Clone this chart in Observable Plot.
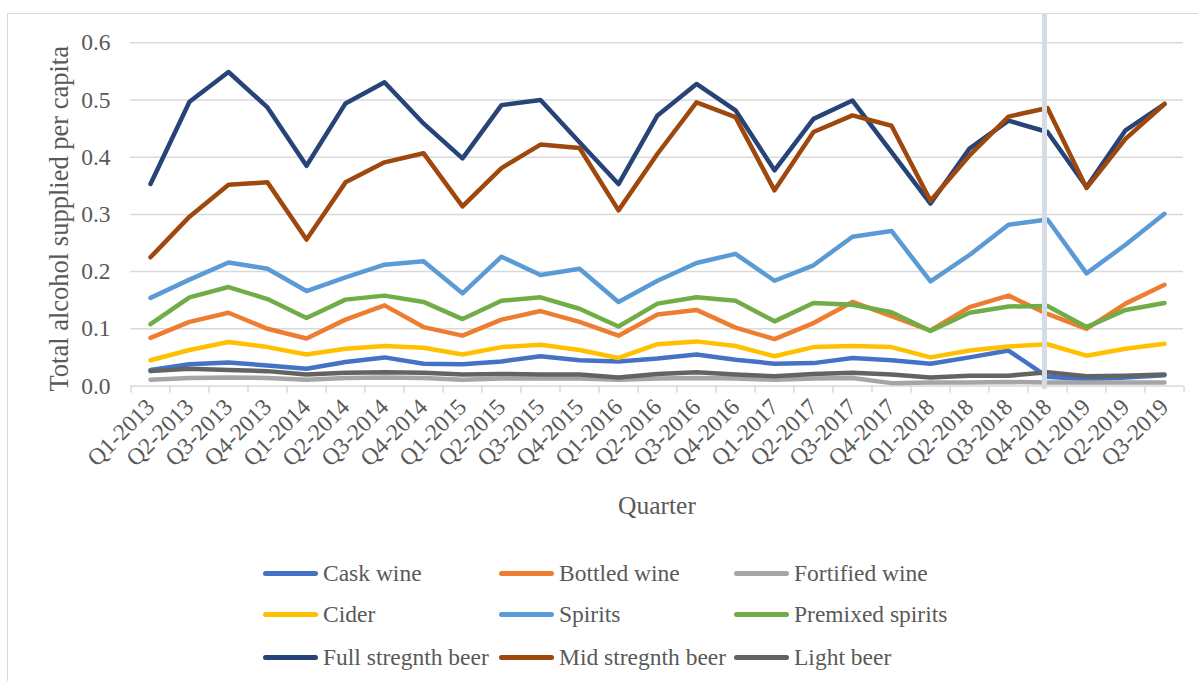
<!DOCTYPE html>
<html>
<head>
<meta charset="utf-8">
<script src="https://cdn.jsdelivr.net/npm/d3@7"></script>
<script src="https://cdn.jsdelivr.net/npm/@observablehq/plot@0.6"></script>
<style>
  html, body { margin: 0; padding: 0; background: #fff; overflow: hidden; }
  #wrap { position: relative; width: 1198px; height: 681px; font-family: "Liberation Serif", "Times New Roman", serif; }
  #frame { position: absolute; left: 7px; top: 13px; width: 1200px; height: 700px; border: 1px solid #d9d9d9; box-sizing: border-box; pointer-events: none; }
  #chart { position: absolute; left: 0; top: 0; }
  .leg { position: absolute; display: flex; align-items: center; font-size: 23.5px; color: #595959; white-space: nowrap; }
  .sw { width: 55px; height: 5px; border-radius: 3px; margin-right: 5px; }
</style>
</head>
<body>
<div id="wrap">
  <div id="frame"></div>
  <div id="chart"></div>
  <div id="legend"></div>
</div>
<script>
const quarters = ["Q1-2013","Q2-2013","Q3-2013","Q4-2013","Q1-2014","Q2-2014","Q3-2014","Q4-2014",
  "Q1-2015","Q2-2015","Q3-2015","Q4-2015","Q1-2016","Q2-2016","Q3-2016","Q4-2016",
  "Q1-2017","Q2-2017","Q3-2017","Q4-2017","Q1-2018","Q2-2018","Q3-2018","Q4-2018",
  "Q1-2019","Q2-2019","Q3-2019"];

const seriesNames = ["Cask wine","Bottled wine","Fortified wine","Cider","Spirits","Premixed spirits",
  "Full stregnth beer","Mid stregnth beer","Light beer"];
const seriesColors = ["#4472C4","#ED7D31","#A5A5A5","#FFC000","#5B9BD5","#70AD47","#264478","#9E480E","#636363"];

const caskWine = [0.028,0.038,0.041,0.036,0.030,0.042,0.050,0.039,0.038,0.043,0.052,0.045,0.043,0.048,0.055,0.046,0.039,0.040,0.049,0.045,0.039,0.050,0.062,0.016,0.012,0.015,0.019];
const bottledWine = [0.084,0.112,0.128,0.100,0.083,0.116,0.141,0.103,0.088,0.116,0.131,0.112,0.088,0.125,0.133,0.102,0.082,0.110,0.147,0.122,0.097,0.138,0.158,0.126,0.100,0.144,0.177];
const fortifiedWine = [0.011,0.014,0.015,0.014,0.011,0.014,0.015,0.014,0.011,0.013,0.013,0.013,0.011,0.013,0.014,0.013,0.011,0.013,0.014,0.005,0.006,0.006,0.007,0.006,0.006,0.006,0.006];
const cider = [0.045,0.063,0.077,0.068,0.055,0.065,0.070,0.067,0.055,0.068,0.072,0.063,0.049,0.073,0.078,0.070,0.052,0.068,0.070,0.068,0.050,0.062,0.069,0.073,0.053,0.065,0.074];
const spirits = [0.154,0.186,0.216,0.205,0.166,0.190,0.212,0.218,0.162,0.226,0.194,0.205,0.147,0.184,0.215,0.231,0.184,0.211,0.261,0.271,0.183,0.229,0.282,0.291,0.197,0.247,0.301];
const premixedSpirits = [0.108,0.155,0.173,0.152,0.119,0.151,0.158,0.147,0.117,0.149,0.155,0.135,0.104,0.144,0.155,0.149,0.113,0.145,0.142,0.129,0.096,0.128,0.139,0.140,0.103,0.133,0.145];
const fullBeer = [0.353,0.497,0.549,0.487,0.385,0.494,0.531,0.459,0.398,0.491,0.500,0.426,0.353,0.473,0.528,0.482,0.377,0.467,0.499,0.409,0.319,0.415,0.464,0.444,0.348,0.447,0.493];
const midBeer = [0.225,0.296,0.352,0.356,0.256,0.356,0.391,0.407,0.314,0.381,0.422,0.416,0.307,0.406,0.496,0.470,0.342,0.444,0.473,0.455,0.324,0.403,0.471,0.486,0.346,0.432,0.493];
const lightBeer = [0.026,0.030,0.028,0.026,0.020,0.023,0.024,0.023,0.020,0.021,0.020,0.020,0.015,0.021,0.024,0.020,0.017,0.021,0.023,0.020,0.015,0.018,0.018,0.024,0.017,0.018,0.020];

const yTicks = [0, 0.1, 0.2, 0.3, 0.4, 0.5, 0.6];
const markerQuarter = "Q4-2018";

const seriesValues = [caskWine, bottledWine, fortifiedWine, cider, spirits, premixedSpirits, fullBeer, midBeer, lightBeer];
const data = seriesNames.flatMap((name, s) => quarters.map((q, i) => ({series: name, quarter: q, value: seriesValues[s][i]})));

const font = '"Liberation Serif", "Times New Roman", serif';

const chart = Plot.plot({
  width: 1198,
  height: 540,
  marginLeft: 130,
  marginRight: 15,
  marginTop: 13,
  marginBottom: 154.5,
  style: {fontFamily: font, background: "transparent", overflow: "visible"},
  x: {type: "point", domain: quarters, padding: 0.5, axis: null},
  y: {domain: [0, 0.6512], axis: null},
  color: {domain: seriesNames, range: seriesColors},
  marks: [
    Plot.gridY(yTicks, {stroke: "#d9d9d9", strokeOpacity: 1, strokeWidth: 1.5}),
    Plot.ruleX(quarters, {x: d => d, dx: -19.5, y1: 0, y2: -0.0125, stroke: "#d9d9d9", strokeWidth: 1.5}),
    Plot.ruleX([quarters[quarters.length - 1]], {x: d => d, dx: 19.5, y1: 0, y2: -0.0125, stroke: "#d9d9d9", strokeWidth: 1.5}),
    Plot.axisY(yTicks, {tickSize: 0, tickPadding: 20, tickFormat: d3.format(".1f"), fontSize: 23.5, fill: "#595959", label: null}),
    Plot.line(data, {x: "quarter", y: "value", z: "series", stroke: "series", strokeWidth: 4.5, strokeLinejoin: "round", strokeLinecap: "round"}),
    Plot.ruleX([markerQuarter], {x: d => d, dx: -3, y1: -0.006, y2: 0.6512, stroke: "#d6dce5", strokeWidth: 5}),
    Plot.text(quarters, {x: d => d, y: 0, dx: 0, dy: 17, rotate: -45, textAnchor: "end", lineAnchor: "middle", fontSize: 23.5, fill: "#595959"}),
    Plot.text(["Quarter"], {frameAnchor: "bottom", textAnchor: "middle", lineAnchor: "middle", dy: 120, fontSize: 25.5, fill: "#595959"}),
    Plot.text(["Total alcohol supplied per capita"], {frameAnchor: "left", textAnchor: "middle", lineAnchor: "middle", dx: -71, dy: 19, rotate: -90, fontSize: 26.5, fill: "#595959"})
  ]
});
document.getElementById("chart").appendChild(chart);

// Legend (HTML, below the plot)
const legend = document.getElementById("legend");
const colX = [263, 499, 734];
const rowY = [573, 614, 657];
seriesNames.forEach((name, i) => {
  const item = document.createElement("div");
  item.className = "leg";
  item.style.left = colX[i % 3] + "px";
  item.style.top = (rowY[Math.floor(i / 3)] - 14) + "px";
  item.style.height = "28px";
  const sw = document.createElement("span");
  sw.className = "sw";
  sw.style.background = seriesColors[i];
  const tx = document.createElement("span");
  tx.textContent = name;
  item.appendChild(sw);
  item.appendChild(tx);
  legend.appendChild(item);
});
</script>
</body>
</html>
